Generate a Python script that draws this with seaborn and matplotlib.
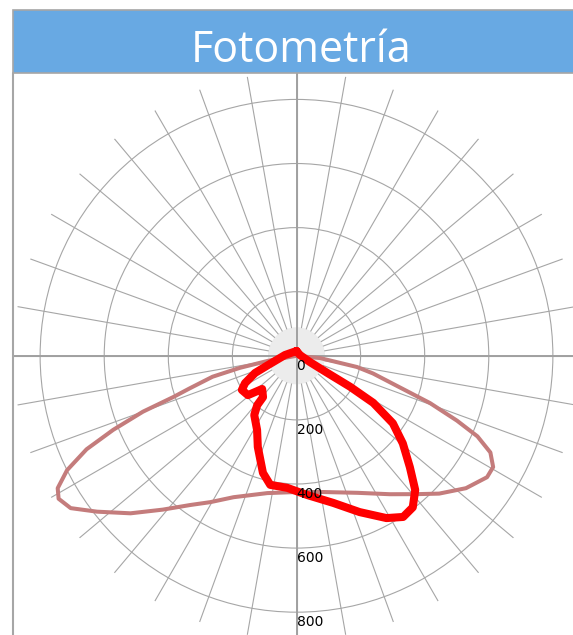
import numpy as np
import pandas as pd
import seaborn as sns
import matplotlib.pyplot as plt
from matplotlib.patches import Rectangle
from matplotlib.lines import Line2D

# ----------------------------------------
# Datos (angulo en grados desde el nadir, intensidad en cd)
# ----------------------------------------
angles_c0 = [-90, -80, -78, -76, -73, -71.5, -70, -68, -66, -63.5, -61, -59, -56,
             -52, -46.5, -41, -35.5, -30.5, -24, -12, 0, 11, 24, 34, 41, 46, 52,
             57.5, 60.5, 63.5, 66, 68, 70.5, 73, 77, 79.5, 84.5, 90]
cd_c0 = [0, 90, 180, 270, 350, 405, 510, 617, 717, 800, 852, 866, 850,
         790, 714, 636, 572, 530, 483, 438, 425, 433, 468, 521, 572, 619, 671,
         705, 705, 676, 618, 540, 442, 337, 245, 192, 74, 0]

angles_c90 = [180, -94, -72, -67.5, -62, -58, -51, -46, -39, -38.5, -35.5, -28,
              -23, -16, -11.5, -4, 4.5, 14, 22, 29, 33.5, 37.5, 41.5, 45.5, 50.5,
              55, 58.5, 60, 61, 65, 103, 180]
cd_c90 = [15, 36, 93, 140, 182, 201, 195, 149, 166, 197, 227, 262,
          309, 380, 411, 413, 436, 473, 526, 579, 603, 596, 559, 496, 430,
          367, 281, 193, 109, 46, 11, 15]

ring_values = [0, 200, 400, 600, 800]
spoke_angles = list(range(0, 360, 10))
title = "Fotometría"

W, H = 573, 635
cx, cy = 296.5, 355.8      # centro del grafico en pixeles
r_px = 283.3               # radio exterior en pixeles
r_max = 884                # cd en el radio exterior
r_hole = 89                # radio del circulo gris

sns.set_style("white")
plt.rcParams['font.family'] = ['DejaVu Sans']

fig = plt.figure(figsize=(W / 100, H / 100), dpi=100)

# barra del titulo
fig.add_artist(Rectangle((12.7 / W, 1 - 73 / H), (600 - 12.7) / W, 63 / H,
                         transform=fig.transFigure, facecolor='#68A9E3',
                         edgecolor='#A6A6A6', lw=1.2, clip_on=False))
fig.text(301.5 / W, 1 - 62 / H, title, color='white', fontsize=31,
         family=['Open Sans', 'DejaVu Sans'], ha='center', va='baseline')

# borde del area de trazado
fig.add_artist(Line2D([12.7 / W, 12.7 / W], [1 - 73 / H, 0],
                      transform=fig.transFigure, color='#A6A6A6', lw=1.5))

ax = fig.add_axes([(cx - r_px) / W, (H - cy - r_px) / H, 2 * r_px / W, 2 * r_px / H],
                  projection='polar')
ax.set_theta_zero_location('S')
ax.set_theta_direction(1)
ax.set_ylim(0, r_max)
ax.set_xticks([])
ax.set_yticks(ring_values[1:])
ax.set_yticklabels([])
ax.yaxis.grid(True, color='#A6A6A6', lw=0.8)
ax.xaxis.grid(False)
ax.spines['polar'].set_visible(False)
ax.set_facecolor('none')

# circulo gris central
ax.bar(0, r_hole, width=2 * np.pi, bottom=0, color='#ECECEC', lw=0, zorder=1)

# radios cada 10 grados, desde el circulo gris
for a in spoke_angles:
    ax.plot([np.deg2rad(a)] * 2, [r_hole, r_max], color='#A6A6A6', lw=0.8, zorder=1)

# ejes principales
for a in [0, 90, 180, 270]:
    ax.axvline(np.deg2rad(a), color='#A0A0A0', lw=1.4, zorder=1.5)

df0 = pd.DataFrame({'theta': np.deg2rad(angles_c0), 'cd': cd_c0})
df90 = pd.DataFrame({'theta': np.deg2rad(angles_c90), 'cd': cd_c90})

sns.lineplot(data=df0, x='theta', y='cd', ax=ax, sort=False, estimator=None,
             color='#C47C7C', lw=2.9, zorder=2,
             solid_joinstyle='round', solid_capstyle='round')
sns.lineplot(data=df90, x='theta', y='cd', ax=ax, sort=False, estimator=None,
             color='#FF0000', lw=5.8, zorder=3,
             solid_joinstyle='round', solid_capstyle='round')
ax.set_xlabel('')
ax.set_ylabel('')
ax.set_ylim(0, r_max)

for v in ring_values:
    ax.text(0, v + 31, str(v), ha='left', va='center', fontsize=10,
            color='black', zorder=5)

fig.savefig('out.png', dpi=100)
